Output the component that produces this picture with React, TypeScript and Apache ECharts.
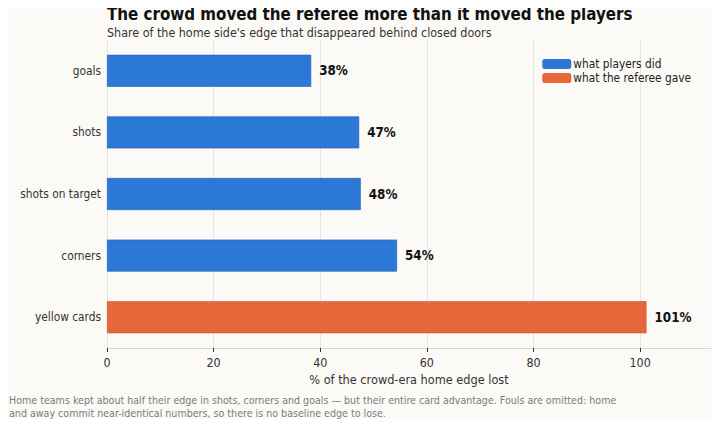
import React, { useEffect, useRef } from "react";
import * as echarts from "echarts";

// categories top to bottom
const categories = ["goals", "shots", "shots on target", "corners", "yellow cards"];
// share of home edge lost (%)
const playersValues = [38.3, 47.3, 47.6, 54.4, null];
const refereeValues = [null, null, null, null, 101.2];
const tickValues = [0, 20, 40, 60, 80, 100];

const FONT = "DejaVu Sans Condensed";

const App: React.FC = () => {
  const chartRef = useRef<HTMLDivElement>(null);

  useEffect(() => {
    const chart = echarts.init(chartRef.current, null, { renderer: "svg" });

    const valueLabel = {
      show: true,
      position: "right" as const,
      distance: 8,
      fontFamily: FONT,
      fontSize: 13.3,
      fontWeight: "bold" as const,
      color: "#111",
      formatter: (p: any) => Math.round(p.value) + "%",
    };

    const option: echarts.EChartsOption = {
      animation: false,
      backgroundColor: "#fbfaf7",
      textStyle: { fontFamily: FONT },
      title: [
        {
          text: "The crowd moved the referee more than it moved the players",
          left: 102,
          top: 1,
          padding: [5, 5, 0, 5],
          textStyle: { fontFamily: FONT, fontSize: 16.8, lineHeight: 16, fontWeight: "bold", color: "#111" },
        },
        {
          text: "Share of the home side's edge that disappeared behind closed doors",
          left: 102,
          top: 21,
          padding: [5, 5, 0, 5],
          textStyle: { fontFamily: FONT, fontSize: 12.4, lineHeight: 13, fontWeight: "normal", color: "#333" },
        },
      ],
      legend: {
        right: 24,
        top: 53,
        orient: "vertical",
        icon: "roundRect",
        itemWidth: 29,
        itemHeight: 10,
        itemGap: 2,
        itemStyle: { borderWidth: 0 },
        textStyle: { fontFamily: FONT, fontSize: 11.8, color: "#222", padding: [0, 0, 0, -3] },
        data: ["what players did", "what the referee gave"],
      },
      grid: { left: 107, right: 9, top: 40, bottom: 79 },
      xAxis: {
        type: "value",
        min: 0,
        max: 113.3,
        interval: 20,
        name: "% of the crowd-era home edge lost",
        nameLocation: "middle",
        nameGap: 23,
        nameTextStyle: { fontFamily: FONT, fontSize: 12.6, color: "#333" },
        axisLine: { show: true, lineStyle: { color: "#d6d6d6" } },
        axisTick: { show: true, length: 4, customValues: tickValues, lineStyle: { color: "#333" } },
        axisLabel: { customValues: tickValues, fontFamily: FONT, fontSize: 12.4, color: "#333", margin: 8 },
        splitLine: { show: true, lineStyle: { color: "#e4e4e4", width: 1 } },
      },
      yAxis: {
        type: "category",
        data: categories,
        inverse: true,
        axisLine: { show: false },
        axisTick: { show: false },
        axisLabel: { fontFamily: FONT, fontSize: 11.8, color: "#333", margin: 6 },
      },
      series: [
        {
          name: "what players did",
          type: "bar",
          stack: "edge",
          barWidth: 32,
          data: playersValues,
          itemStyle: { color: "#2b78d6", borderColor: "#1f5fae", borderWidth: 0.6 },
          label: valueLabel,
        },
        {
          name: "what the referee gave",
          type: "bar",
          stack: "edge",
          barWidth: 32,
          data: refereeValues,
          itemStyle: { color: "#e8673a", borderColor: "#c9552d", borderWidth: 0.6 },
          label: valueLabel,
        },
      ],
      graphic: [
        {
          type: "text",
          left: 9,
          top: 393,
          style: {
            text:
              "Home teams kept about half their edge in shots, corners and goals \u2014 but their entire card advantage. Fouls are omitted: home\nand away commit near-identical numbers, so there is no baseline edge to lose.",
            fontFamily: FONT,
            fontSize: 10.6,
            lineHeight: 13.5,
            fill: "#7a7a7a",
          },
        },
      ],
    };

    chart.setOption(option);
    return () => {
      chart.dispose();
    };
  }, []);

  return <div ref={chartRef} style={{ width: 720, height: 427, margin: -8 }} />;
};

export default App;
